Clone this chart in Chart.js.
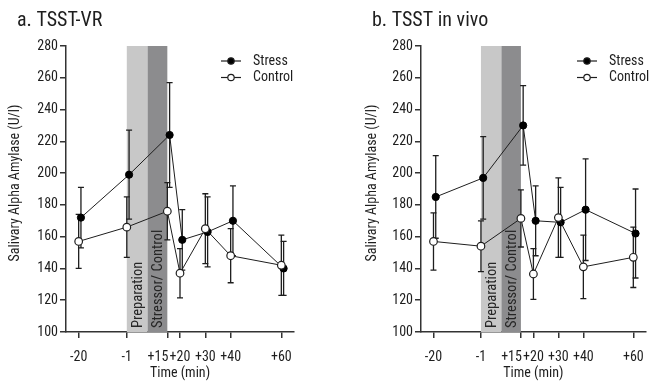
<!DOCTYPE html>
<html>
<head>
<meta charset="utf-8">
<script src="https://cdn.jsdelivr.net/npm/chart.js@4.4.1/dist/chart.umd.min.js"></script>
<style>
  html, body { margin: 0; padding: 0; background: #fff; }
  .wrap { position: relative; width: 651px; height: 382px; }
  .panel { position: absolute; top: 0; height: 382px; }
  #panelA { left: 0; width: 325px; }
  #panelB { left: 325px; width: 326px; }
</style>
</head>
<body>
<div class="wrap">
  <div class="panel" id="panelA"><canvas id="chartA"></canvas></div>
  <div class="panel" id="panelB"><canvas id="chartB"></canvas></div>
</div>
<script>
// sample times (min) and y-axis range
const TIMES = [-20, -1, 15, 20, 30, 40, 60];
const Y_MIN = 100, Y_MAX = 280, Y_STEP = 20;

// a. TSST-VR
const VR_STRESS = [172, 199, 224, 158, 163, 170, 140];
const VR_STRESS_SEM = [19, 28, 33, 19, 22, 22, 17];
const VR_CONTROL = [157, 166, 176, 137, 165, 148, 142];
const VR_CONTROL_SEM = [17, 19, 18, 15.5, 22, 17, 19];

// b. TSST in vivo
const VIVO_STRESS = [185, 197, 230, 170, 169, 177, 162];
const VIVO_STRESS_SEM = [26, 26, 25, 22, 22, 32, 28];
const VIVO_CONTROL = [157, 154, 171.5, 136.5, 172, 141, 147];
const VIVO_CONTROL_SEM = [18, 16, 18, 16, 25, 20, 19];

// shaded phases (min)
const PHASES = [
  { label: 'Preparation', from: -1, to: 7.2, color: '#c8c8c8' },
  { label: 'Stressor/ Control', from: 7.2, to: 15, color: '#8c8c8e' }
];

const Y_TITLE = 'Salivary Alpha Amylase (U/l)';
const X_TITLE = 'Time (min)';
const RIGHT_ALIGNED_TICKS = [15]; // "+15" sits left of its tick so it doesn't hit "+20"

const FONT = "'Roboto Condensed', 'DejaVu Sans Condensed', sans-serif";
const INK = '#1e1e1e';
const STRESS_SHIFT = 0.9; // stress markers sit slightly right of control

Chart.defaults.font.family = FONT;
Chart.defaults.font.size = 14;
Chart.defaults.color = INK;

const fmtTime = v => v > 0 ? '+' + v : String(v);

/**
 * Shaded phase bands with rotated labels
 */
const phaseBands = {
  id: 'phaseBands',
  beforeDatasetsDraw(chart) {
    const { ctx, chartArea, scales } = chart;
    ctx.save();
    PHASES.forEach(p => {
      const x0 = scales.x.getPixelForValue(p.from);
      const x1 = scales.x.getPixelForValue(p.to);
      ctx.fillStyle = p.color;
      ctx.fillRect(x0, chartArea.top, x1 - x0, chartArea.bottom - chartArea.top);
      ctx.save();
      ctx.translate((x0 + x1) / 2, chartArea.bottom - 4);
      ctx.rotate(-Math.PI / 2);
      ctx.fillStyle = '#262626';
      ctx.font = '14.5px ' + FONT;
      ctx.textAlign = 'left';
      ctx.textBaseline = 'middle';
      ctx.fillText(p.label, 0, 1);
      ctx.restore();
    });
    ctx.restore();
  }
};

/**
 * Error bars (± SEM) from dataset.errors
 */
const errorBars = {
  id: 'errorBars',
  beforeDatasetsDraw(chart) {
    const { ctx, scales } = chart;
    ctx.save();
    ctx.strokeStyle = INK;
    ctx.lineWidth = 1.3;
    chart.data.datasets.forEach((ds, i) => {
      const meta = chart.getDatasetMeta(i);
      meta.data.forEach((pt, j) => {
        const v = ds.data[j].y, e = ds.errors[j];
        const top = scales.y.getPixelForValue(v + e);
        const bot = scales.y.getPixelForValue(v - e);
        ctx.beginPath();
        ctx.moveTo(pt.x, top); ctx.lineTo(pt.x, bot);
        ctx.moveTo(pt.x - 3, top); ctx.lineTo(pt.x + 3, top);
        ctx.moveTo(pt.x - 3, bot); ctx.lineTo(pt.x + 3, bot);
        ctx.stroke();
      });
    });
    ctx.restore();
  }
};

/**
 * x tick labels, y title, panel title + line/marker legend
 */
const panelDecor = {
  id: 'panelDecor',
  afterDraw(chart, args, opts) {
    const { ctx, chartArea, scales } = chart;
    ctx.save();
    ctx.fillStyle = INK;
    ctx.textBaseline = 'middle';

    // x tick labels
    ctx.font = '14px ' + FONT;
    scales.x.ticks.forEach(t => {
      const x = scales.x.getPixelForValue(t.value);
      const right = RIGHT_ALIGNED_TICKS.includes(t.value);
      ctx.textAlign = right ? 'right' : 'center';
      ctx.fillText(fmtTime(t.value), right ? x + 1 : x, chartArea.bottom + 25);
    });

    // y title
    ctx.save();
    ctx.translate(opts.yTitleX, (chartArea.top + chartArea.bottom) / 2 - 6);
    ctx.rotate(-Math.PI / 2);
    ctx.textAlign = 'center';
    ctx.fillText(Y_TITLE, 0, 0);
    ctx.restore();

    // panel title
    ctx.textAlign = 'left';
    ctx.font = '20px ' + FONT;
    ctx.fillText(opts.title, opts.titleX, 21);

    // legend
    ctx.font = '14px ' + FONT;
    chart.data.datasets.forEach((ds, i) => {
      const y = opts.legendY + i * 16.5;
      const x = opts.legendX;
      ctx.strokeStyle = INK;
      ctx.lineWidth = 1.2;
      ctx.beginPath();
      ctx.moveTo(x, y); ctx.lineTo(x + 20, y);
      ctx.stroke();
      ctx.beginPath();
      ctx.arc(x + 10, y, 3.2, 0, Math.PI * 2);
      ctx.fillStyle = ds.pointBackgroundColor;
      ctx.fill();
      ctx.stroke();
      ctx.fillStyle = INK;
      ctx.fillText(ds.label, x + 32, y);
    });
    ctx.restore();
  }
};

function makePanel(canvasId, cfg) {
  const stress = {
    label: 'Stress',
    data: TIMES.map((t, i) => ({ x: t + STRESS_SHIFT, y: cfg.stress[i] })),
    errors: cfg.stressSem,
    borderColor: INK,
    borderWidth: 1,
    pointRadius: 3.6,
    pointBackgroundColor: '#000',
    pointBorderColor: '#000',
    pointBorderWidth: 1,
    order: 1
  };
  const control = {
    label: 'Control',
    data: TIMES.map((t, i) => ({ x: t, y: cfg.control[i] })),
    errors: cfg.controlSem,
    borderColor: INK,
    borderWidth: 1,
    pointRadius: 3.8,
    pointBackgroundColor: '#fff',
    pointBorderColor: INK,
    pointBorderWidth: 1.2,
    order: 0
  };

  return new Chart(document.getElementById(canvasId), {
    type: 'line',
    data: { datasets: [stress, control] },
    plugins: [phaseBands, errorBars, panelDecor],
    options: {
      responsive: true,
      maintainAspectRatio: false,
      animation: false,
      layout: { padding: { top: 46, right: cfg.padRight, bottom: 0, left: cfg.padLeft } },
      plugins: {
        legend: { display: false },
        tooltip: { enabled: false },
        panelDecor: {
          title: cfg.title, titleX: cfg.titleX, yTitleX: cfg.yTitleX,
          legendX: cfg.legendX, legendY: 61
        }
      },
      scales: {
        x: {
          type: 'linear',
          min: -25, max: 65,
          afterBuildTicks: s => { s.ticks = TIMES.map(v => ({ value: v })); },
          afterFit: s => { s.height = 50; },
          ticks: { display: false, autoSkip: false },
          grid: { drawOnChartArea: false, tickLength: 6, color: '#333', lineWidth: 1.5 },
          border: { color: '#333', width: 1.5 },
          title: { display: true, text: X_TITLE, padding: { top: 0, bottom: 0 } }
        },
        y: {
          min: Y_MIN, max: Y_MAX,
          afterFit: s => { s.width = cfg.yWidth; },
          ticks: { stepSize: Y_STEP, padding: 2 },
          grid: { drawOnChartArea: false, tickLength: 6, color: '#333', lineWidth: 1.5 },
          border: { color: '#333', width: 1.5 }
        }
      }
    }
  });
}

makePanel('chartA', {
  title: 'a. TSST-VR', titleX: 17, yTitleX: 15,
  stress: VR_STRESS, stressSem: VR_STRESS_SEM,
  control: VR_CONTROL, controlSem: VR_CONTROL_SEM,
  padLeft: 0, yWidth: 66, padRight: 31, legendX: 221
});

makePanel('chartB', {
  title: 'b. TSST in vivo', titleX: 47, yTitleX: 47,
  stress: VIVO_STRESS, stressSem: VIVO_STRESS_SEM,
  control: VIVO_CONTROL, controlSem: VIVO_CONTROL_SEM,
  padLeft: 32, yWidth: 64, padRight: 1, legendX: 252
});
</script>
</body>
</html>
